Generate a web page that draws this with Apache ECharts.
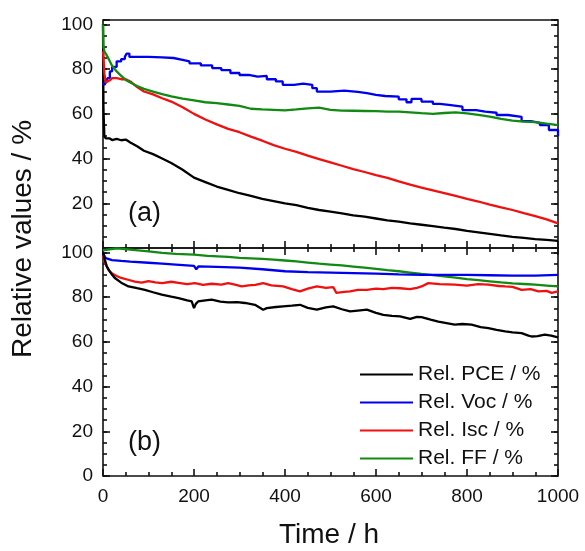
<!DOCTYPE html>
<html>
<head>
<meta charset="utf-8">
<script src="https://cdn.jsdelivr.net/npm/echarts@6/dist/echarts.min.js"></script>
<style>
html,body{margin:0;padding:0;background:#fff;}
#chart{width:585px;height:551px;}
</style>
</head>
<body>
<div id="chart"></div>
<script>
// ---- Data ----
// Panel (a)
const timeA = [0,1,3,6,10,15,20,30,40,50,60,75,90,110,130,150,175,200,225,250,275,300,325,350,375,400,425,450,475,500,525,550,575,600,625,650,675,700,725,750,775,800,825,850,875,900,925,950,975,1000];
const pceA = [100,62,50,49,48.5,49,48.3,48.8,48.2,48.5,47.2,45.5,43.5,42,40,38,35,31.5,29.5,27.5,26,24.5,23.3,22,21,20,19.2,18,17,16.3,15.5,14.6,14,13.2,12.4,11.8,11,10.4,9.8,9.1,8.5,7.7,7,6.3,5.6,5,4.5,4,3.6,3.2];
const iscA = [88,85,78,74,73.5,75,76,76,75.5,75.5,74.5,72,70,68.7,67,65.5,63,60,57.5,55.3,53.3,51.8,49.8,48,46,44.4,43,41.3,39.8,38.3,36.8,35.3,34,32.6,31.4,29.8,28.4,27,25.8,24.6,23.3,22,20.8,19.4,18.2,17,15.6,14.3,12.8,11];
const ffA = [100,90,88,87,85.5,83.5,81.5,79,77,75.2,74,72.5,71.2,70,68.8,67.8,66.8,66,65.2,64.8,64.2,63.6,62.3,62,61.8,61.6,62,62.5,62.8,61.8,61.5,61.4,61.3,61.2,61,61,60.7,60.3,60,60.4,60.7,60.2,59.6,58.8,57.8,57,56.5,56.3,55.6,55];
const vocA_t = [0,3,6,10,15,20,30,40,48,52,58,75,100,130,155,175,190,215,240,260,280,300,320,340,360,380,395,420,440,460,470,500,530,560,580,600,620,650,667,678,700,725,740,760,790,820,840,865,890,920,940,960,980,1000];
const vocA = [74,73,74,76,79,81,83.5,84.5,85.5,87,85.5,85.5,85.3,85,84.2,83.5,82.6,81.7,80.5,79.6,78.3,77.4,76.7,77,75.5,74.5,73,73.5,73,71.5,70,70.4,69.8,69.3,68.5,68,67.7,66.5,65.2,66.7,65.5,64.5,64,63.2,61.7,61,60.5,59.5,58.7,56.8,56,55,52.8,50];

// Panel (b)
const ffB_t = [0,30,60,100,130,160,200,230,275,300,325,350,375,400,425,450,475,500,525,550,575,600,625,650,675,700,725,750,775,800,825,850,875,900,925,950,975,1000];
const ffB = [101,101.8,101.3,100.5,99.8,99.4,99,98.5,98,97.6,97.4,97.1,96.8,96.4,96,95.5,95,94.6,94.2,93.7,93.2,92.7,92.1,91.6,91,90.4,89.9,89.3,88.7,88.1,87.6,87.1,86.6,86.2,85.9,85.6,85.2,84.8];
const vocB_t = [0,3,6,10,20,40,60,100,130,160,200,205,210,250,300,350,400,450,500,550,600,650,700,750,800,850,900,950,1000];
const vocB = [100,98.5,97.5,97,96.6,96.2,95.9,95.4,95,94.6,94,92.5,93.8,93.6,93.2,92.5,91.6,91.2,91,90.8,90.5,90.2,90,90,90,89.8,89.6,89.6,90];
const iscB_t = [0,3,8,15,20,30,40,55,70,85,100,115,130,150,166,185,202,220,239,260,275,290,305,320,335,352,370,396,415,433,450,470,490,506,513,530,543,560,580,600,616,635,653,675,690,700,715,740,773,800,825,847,870,884,900,920,940,957,975,986,1000];
const iscB = [99,96,93.8,91.5,90.6,89.5,88.6,87.8,87,86.5,87.2,86.6,86.3,86.9,86.4,85.8,86.3,85.5,86,85.6,86.3,85.6,84.8,85.3,85.5,86.3,85.3,84.8,83.6,82.6,83.8,84.8,84.2,84.5,81.9,82.4,82.6,83.3,83.3,83.8,83.6,84.2,84,83.6,84.2,84.8,86.3,85.8,85.6,85.2,85.8,85.6,85,84.8,84.6,83.3,83.6,82.6,82.8,81.9,82.6];
const pceB_t = [0,4,8,12,20,26,40,56,75,92,110,129,150,166,185,195,200,204,209,225,239,258,275,295,312,334,352,360,380,396,415,433,450,470,490,506,525,543,560,580,600,616,635,653,675,690,700,720,737,755,773,790,810,830,847,865,884,900,920,935,942,955,971,985,1000];
const pceB = [100,96.8,94,92.3,90,88.6,86.5,84.8,84,83.3,82.2,81.1,80.2,79.6,78.6,78.1,75.1,77,78.1,78.6,78.9,78,77.7,77.8,77.4,76.6,74.4,75.1,75.6,75.9,76.2,76.6,75.2,74.4,75.4,75.9,74.6,73.6,74,74.4,73,72.1,71.6,71.4,70.3,71.2,71.1,70,69.1,68.4,67.7,68,67.7,66.6,66.2,65.4,64.7,64.3,63.9,62.8,62.4,62.6,63.2,62.8,62];

const names = ['Rel. PCE / %','Rel. Voc / %','Rel. Isc / %','Rel. FF / %'];
const xTicks = [0,200,400,600,800,1000];
const yTicks = [0,20,40,60,80,100];

// ---- Chart ----
const COLORS = {pce:'#000000', voc:'#0000f0', isc:'#f01010', ff:'#128a12'};
const INK = '#111';
const FONT = "'Liberation Sans', Arial, sans-serif";
const zip = (t, v) => t.map((x, i) => [x, v[i]]);

const L = 103, W = 455, TOP_A = 20, H = 228;

function xAx(gridIndex, position, showLabel, ticks) {
  return {
    type:'value', gridIndex, position, min:0, max:1000, interval:200,
    axisLine:{show:false}, splitLine:{show:false},
    axisTick:{show:ticks, inside:true, length:7, lineStyle:{color:INK, width:1.6}},
    minorTick:{show:ticks, splitNumber:4, length:4, lineStyle:{color:INK, width:1.6}},
    axisLabel:{show:showLabel, fontSize:19, color:INK, fontFamily:FONT, margin:11,
      formatter: v => xTicks.includes(v) ? String(v) : ''}
  };
}
function yAx(gridIndex, position, interval, len, labelFilter) {
  return {
    type:'value', gridIndex, position, min:0, max:102, interval,
    axisLine:{show:false}, splitLine:{show:false},
    axisTick:{show:true, inside:true, length:len, lineStyle:{color:INK, width:1.6}},
    axisLabel:{show: !!labelFilter, fontSize:19, color:INK, fontFamily:FONT, margin:10,
      formatter: v => (labelFilter && labelFilter(v)) ? String(v) : ''}
  };
}

const LW = 2.3;
function line(name, xi, yi, data, color, extra) {
  return Object.assign({name, type:'line', xAxisIndex:xi, yAxisIndex:yi, data, showSymbol:false,
    lineStyle:{width:LW, color}, itemStyle:{color}}, extra || {});
}

const option = {
  animation:false,
  backgroundColor:'#fff',
  grid:[
    {left:L, top:TOP_A, width:W, height:H, show:true, borderColor:INK, borderWidth:1.6, backgroundColor:'transparent'},
    {left:L, top:TOP_A+H, width:W, height:H, show:true, borderColor:INK, borderWidth:1.6, backgroundColor:'transparent'}
  ],
  xAxis:[
    xAx(0,'bottom',false,true),
    xAx(0,'top',false,true),
    xAx(1,'bottom',true,true)
  ],
  yAxis:[
    yAx(0,'left',20,7, v => yTicks.includes(v) && v > 0),
    yAx(0,'left',5,4,null),
    yAx(0,'right',20,7,null),
    yAx(0,'right',5,4,null),
    yAx(1,'left',20,7, v => yTicks.includes(v)),
    yAx(1,'left',5,4,null),
    yAx(1,'right',20,7,null),
    yAx(1,'right',5,4,null)
  ],
  legend:{
    data:names, orient:'vertical', left:355, top:359, itemGap:7,
    icon:'rect', itemWidth:53, itemHeight:2,
    textStyle:{fontSize:21, color:INK, fontFamily:FONT, lineHeight:21},
    selectedMode:false
  },
  graphic:[
    {type:'text', left:128, top:200, style:{text:'(a)', font:"27px 'Liberation Sans', Arial, sans-serif", fill:INK}},
    {type:'text', left:128, top:429, style:{text:'(b)', font:"27px 'Liberation Sans', Arial, sans-serif", fill:INK}},
    {type:'text', x:329, y:535, style:{text:'Time / h', font:"28px 'Liberation Sans', Arial, sans-serif", fill:INK, textAlign:'center', textVerticalAlign:'middle'}},
    {type:'text', x:23, y:239, rotation:Math.PI/2, style:{text:'Relative values / %', font:"28px 'Liberation Sans', Arial, sans-serif", fill:INK, textAlign:'center', textVerticalAlign:'middle'}}
  ],
  series:[
    line(names[0],0,0,zip(timeA,pceA),COLORS.pce),
    line(names[1],0,0,zip(vocA_t,vocA),COLORS.voc,{step:'end'}),
    line(names[2],0,0,zip(timeA,iscA),COLORS.isc),
    line(names[3],0,0,zip(timeA,ffA),COLORS.ff),
    line(names[3],2,4,zip(ffB_t,ffB),COLORS.ff),
    line(names[1],2,4,zip(vocB_t,vocB),COLORS.voc),
    line(names[2],2,4,zip(iscB_t,iscB),COLORS.isc),
    line(names[0],2,4,zip(pceB_t,pceB),COLORS.pce)
  ]
};
const chart = echarts.init(document.getElementById('chart'), null, {renderer:'canvas'});
chart.setOption(option);
</script>
</body>
</html>
